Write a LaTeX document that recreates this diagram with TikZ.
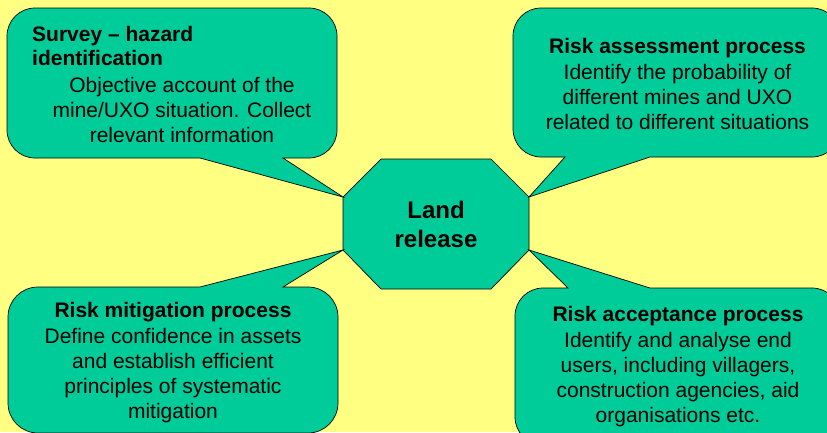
\documentclass[tikz,border=0pt]{standalone}
\usepackage{fontspec}
\setmainfont{Liberation Sans}
\definecolor{pale}{RGB}{255,255,130}
\definecolor{sea}{RGB}{0,204,153}

\begin{document}
\begin{tikzpicture}[x=1pt, y=-1pt,
    bubble/.style={draw=black, fill=sea, line width=0.7pt},
    say/.style={inner sep=0pt, align=center, font=\fontsize{21}{25}\selectfont},
    hub/.style={inner sep=0pt, align=center, font=\fontsize{24}{29}\selectfont\bfseries}]
  \fill [pale] (0,0) rectangle (827,432);
  \useasboundingbox (0,0) rectangle (827,432);
  \clip (0,0) rectangle (827,432);
  \coordinate (centre) at (436,224);
  \draw [bubble] (centre) ++(-55,-65) -- ++(110,0) -- ++(38,38) coordinate (tip ne)
    -- ++(0,53) coordinate (tip se) -- ++(-38,39) -- ++(-110,0) -- ++(-38,-39)
    coordinate (tip sw) -- ++(0,-53) coordinate (tip nw) -- cycle;
  \node (land) [hub] at (centre) {Land\\release};
  \draw [bubble] (283,158) [rounded corners=28pt] -- (337,158) -- (337,8)
    -- (7,8) -- (7,158) [sharp corners] -- (200,158) -- (tip nw) -- cycle;
  \draw [bubble] (565,157) [rounded corners=28pt] -- (513,157) -- (513,8)
    -- (840,8) -- (840,157) [sharp corners] -- (650,157) -- (tip ne) -- cycle;
  \draw [bubble] (200,287) [rounded corners=30pt] -- (8,287) -- (8,433)
    -- (338,433) -- (338,287) [sharp corners] -- (283,287) -- (tip sw) -- cycle;
  \draw [bubble] (568,288) [rounded corners=28pt] -- (515,288) -- (515,445)
    -- (840,445) -- (840,288) [sharp corners] -- (650,288) -- (tip se) -- cycle;
  \node (survey) [say, anchor=north west, align=left,
    font=\fontsize{21}{24}\selectfont\bfseries] at (32,25.7)
    {Survey – hazard\\identification};
  \node (survey text) [say, anchor=north] at (182,77.5)
    {Objective account of the\\mine/UXO situation. Collect\\relevant information};
  \node (assess) [say, anchor=north] at (677.5,37.7)
    {\textbf{Risk assessment process}\\[1.5pt]Identify the probability of\\
     different mines and UXO\\related to different situations};
  \node (mitigate) [say, anchor=north] at (173,301.7)
    {\textbf{Risk mitigation process}\\[1pt]Define confidence in assets\\
     and establish efficient\\principles of systematic\\mitigation};
  \node (accept) [say, anchor=north] at (678,305.7)
    {\textbf{Risk acceptance process}\\[1pt]Identify and analyse end\\
     users, including villagers,\\construction agencies, aid\\organisations etc.};
\end{tikzpicture}
\end{document}
